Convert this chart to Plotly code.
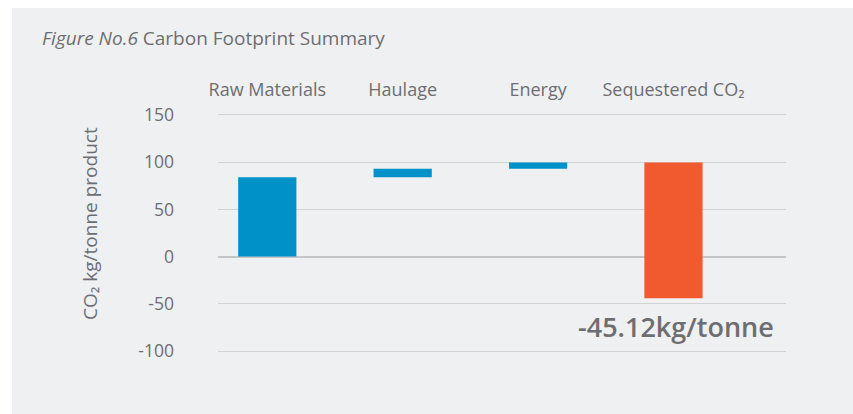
import plotly.graph_objects as go

categories = ["Raw Materials", "Haulage", "Energy", "Sequestered CO₂"]
changes = [84, 9, 6.5, -143.5]
measures = ["relative", "relative", "relative", "relative"]
y_ticks = [150, 100, 50, 0, -50, -100]
y_tick_text = ["150", "100", "50", "0", "-50", "-100"]
net_label = "-45.12kg/tonne"

TEXT = "#6d6e71"
BLUE = "#0091c9"
ORANGE = "#f15a2e"
PANEL = "#eff0f2"
FONT = "Open Sans"

fig = go.Figure()
fig.add_trace(go.Waterfall(
    x=categories, y=changes, measure=measures,
    increasing=dict(marker=dict(color=BLUE)),
    decreasing=dict(marker=dict(color=ORANGE)),
    totals=dict(marker=dict(color=BLUE)),
    connector=dict(visible=False),
    width=0.43, showlegend=False, hoverinfo="x+y",
))

# grey card behind the chart
fig.add_shape(type="rect", xref="paper", yref="paper",
              x0=-0.3627, x1=1.3, y0=-0.4, y1=1.4375,
              fillcolor=PANEL, line=dict(width=0), layer="below")

fig.add_annotation(xref="paper", yref="paper", x=-0.3134, y=1.3125,
                   xanchor="left", yanchor="middle", showarrow=False,
                   text="<i>Figure No.6</i> Carbon Footprint Summary",
                   font=dict(family=FONT, size=19, color=TEXT))

fig.add_annotation(xref="paper", yref="paper", x=-0.2254, y=0.5417,
                   xanchor="center", yanchor="middle", showarrow=False,
                   textangle=-90, text="CO₂ kg/tonne product",
                   font=dict(family=FONT, size=19, color=TEXT))

fig.add_annotation(xref="x", yref="y", x=3.02, y=-74,
                   xanchor="center", yanchor="middle", showarrow=False,
                   text=net_label,
                   font=dict(family=FONT, size=27, color=TEXT, weight=600))

fig.update_layout(
    width=853, height=414,
    margin=dict(l=218, r=67, t=113, b=61),
    paper_bgcolor="white", plot_bgcolor=PANEL,
    font=dict(family=FONT, color=TEXT, size=17),
    xaxis=dict(side="top", range=[-0.364, 3.831], showgrid=False,
               showline=False, zeroline=False, ticks="",
               ticklabelstandoff=12,
               tickfont=dict(family=FONT, size=18, color=TEXT)),
    yaxis=dict(range=[-102, 152], tickvals=y_ticks, ticktext=y_tick_text,
               showgrid=True, gridcolor="#d2d3d5", gridwidth=1,
               zeroline=True, zerolinecolor="#c4c5c7", zerolinewidth=2,
               showline=False, ticks="", ticklabelstandoff=43,
               tickfont=dict(family=FONT, size=17.5, color=TEXT)),
)

fig.write_html("out.html", config={"displayModeBar": False},
               post_script="document.body.style.margin='0';document.body.style.overflow='hidden';")
